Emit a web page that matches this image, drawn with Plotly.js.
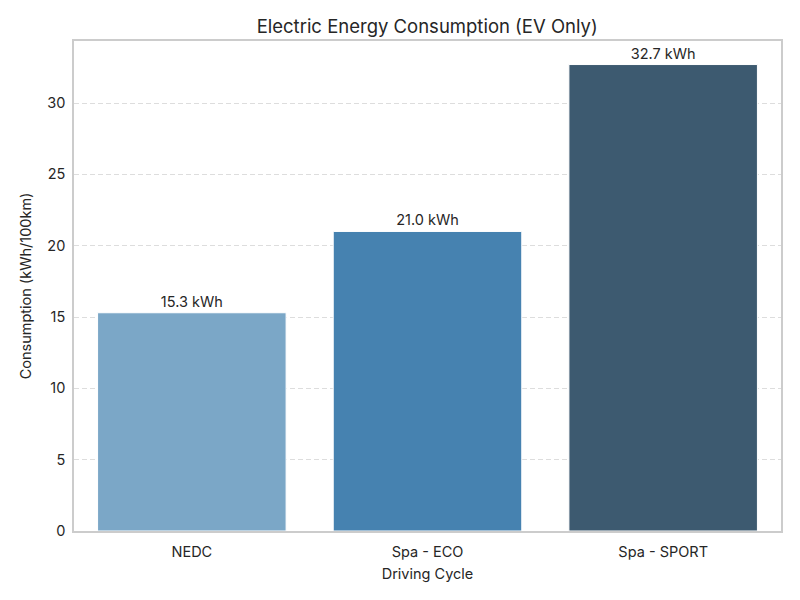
<!DOCTYPE html>
<html><head><meta charset="utf-8">
<script src="https://cdn.plot.ly/plotly-3.0.1.min.js"></script>
<style>body{margin:0}#c{width:800px;height:600px}</style>
</head><body><div id="c"></div>
<script>
const categories = ["NEDC", "Spa - ECO", "Spa - SPORT"];
const consumption = [15.3, 21.0, 32.7];
const barLabels = ["15.3 kWh", "21.0 kWh", "32.7 kWh"];
const barColors = ["#7ba7c7", "#4682b0", "#3d5a70"];
const yTicks = [0, 5, 10, 15, 20, 25, 30];

const font = "Inter, 'Open Sans', sans-serif";
Plotly.newPlot("c", [{
  type: "bar",
  x: categories,
  y: consumption,
  text: barLabels,
  textposition: "outside",
  cliponaxis: false,
  textfont: {family: font, size: 14.5, color: "#262626"},
  marker: {color: barColors, line: {color: "#ffffff", width: 1}},
  width: 0.8,
  hoverinfo: "none"
}], {
  width: 800, height: 600,
  margin: {l: 74, r: 19, t: 41, b: 69},
  paper_bgcolor: "#fff", plot_bgcolor: "#fff",
  font: {family: font, color: "#262626"},
  title: {text: "Electric Energy Consumption (EV Only)", font: {size: 18.5, color: "#262626"}, x: 0.534, xanchor: "center", y: 0.956, yanchor: "middle"},
  xaxis: {
    title: {text: "Driving Cycle", font: {size: 14.5}, standoff: 10},
    tickfont: {size: 14.5}, showline: true, linecolor: "#cccccc", linewidth: 1.8, mirror: true,
    showgrid: false, ticks: "", range: [-0.5, 2.5], ticklabelstandoff: 7
  },
  yaxis: {
    title: {text: "Consumption (kWh/100km)", font: {size: 14.5}, standoff: 12},
    tickfont: {size: 14.5}, range: [0, 34.35], tickvals: yTicks,
    showline: true, linecolor: "#cccccc", linewidth: 1.8, mirror: true,
    showgrid: true, gridcolor: "#dddddd", griddash: "5px,3px", gridwidth: 1,
    zeroline: false, ticks: "", ticklabelstandoff: 4
  },
  showlegend: false
}, {staticPlot: true});
</script></body></html>
